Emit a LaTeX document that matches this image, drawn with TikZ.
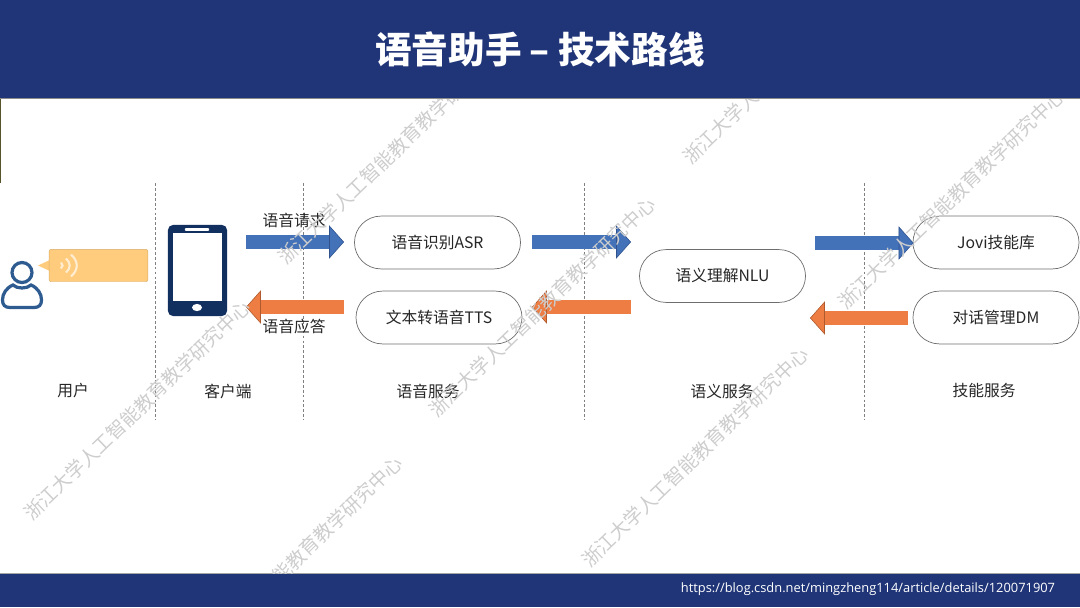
\documentclass[tikz,border=0pt]{standalone}
\usepackage{xcolor}
\usepackage{fontspec}
\usepackage{tikz}
\usetikzlibrary{arrows.meta, positioning, shapes.geometric}
\setmainfont{Open Sans}
\newfontfamily\cjk{Noto Sans CJK SC}
\definecolor{BarBlue}{HTML}{203578}
\definecolor{PhoneBlue}{HTML}{12305F}
\definecolor{UserBlue}{HTML}{2F5C90}
\definecolor{ReqBlue}{HTML}{4472B8}
\definecolor{ReqEdge}{HTML}{2F528F}
\definecolor{RespOrange}{HTML}{ED7D42}
\definecolor{RespEdge}{HTML}{AE5A2E}
\definecolor{BubbleGold}{HTML}{FFCB7C}
\definecolor{PillGray}{HTML}{6E6E6E}
\definecolor{InkGray}{HTML}{262626}
\definecolor{MarkGray}{HTML}{CDCDCD}
\begin{document}
\begin{tikzpicture}[
  x=0.025cm, y=-0.025cm,
  service/.style={rectangle, rounded corners=0.66cm, draw=PillGray, line width=0.5pt, fill=white,
    text=InkGray, font=\fontsize{11.2}{13}\cjk, minimum width=4.15cm, minimum height=1.32cm},
  caption/.style={text=InkGray, font=\fontsize{11.2}{13}\cjk, inner sep=0pt},
  divider/.style={draw=black!50, line width=0.35pt, dash pattern=on 2pt off 1.5pt},
  reqflow/.style={line width=0.4pt, draw=ReqEdge, double=ReqBlue, double distance=0.34cm,
    -{Triangle[length=0.37cm, width=0.83cm, fill=ReqBlue, color=ReqEdge, line width=0.4pt]}},
  respflow/.style={line width=0.4pt, draw=RespEdge, double=RespOrange, double distance=0.34cm,
    -{Triangle[length=0.37cm, width=0.83cm, fill=RespOrange, color=RespEdge, line width=0.4pt]}},
  usericon/.style={draw=UserBlue, line width=2.3pt, fill=white},
  watermark/.style={rotate=44, text=MarkGray, font=\fontsize{13.6}{15}\cjk, inner sep=0pt}
]
\useasboundingbox (0,0) rectangle (1080,607);

% bars
\fill[BarBlue] (0,0) rectangle (1080,98);
\fill[BarBlue] (0,574) rectangle (1080,607);
\draw[black!45, line width=0.7pt] (0,98.5) -- (1080,98.5);
\draw[black!35, line width=0.7pt] (0,573.5) -- (1080,573.5);
\draw[black!50!olive, line width=0.6pt] (0.3,99) -- (0.3,183);
\node[text=white, font=\fontsize{26}{30}\cjk\bfseries] (title) at (540,49) {语音助手 – 技术路线};
\node[text=white, font=\fontsize{9.15}{11}\selectfont, inner sep=0pt] (link) at (868,589) {https://blog.csdn.net/mingzheng114/article/details/120071907};

% dashed columns
\coordinate (d1a) at (155,183); \coordinate (d1b) at (155,420);
\coordinate (d2a) at (303,183); \coordinate (d2b) at (303,420);
\coordinate (d3a) at (584,183); \coordinate (d3b) at (584,420);
\coordinate (d4a) at (864,183); \coordinate (d4b) at (864,420);
\draw[divider] (d1a) -- (d1b);
\draw[divider] (d2a) -- (d2b);
\draw[divider] (d3a) -- (d3b);
\draw[divider] (d4a) -- (d4b);

% user
\draw[usericon] (13,285) .. controls (6,288) and (2.5,294) .. (2.5,300) .. controls (2.5,305) and (5,307.5) .. (10,307.5)
  -- (34,307.5) .. controls (39,307.5) and (41.5,305) .. (41.5,300) .. controls (41.5,294) and (38,288) .. (31,285)
  .. controls (27,289) and (17,289) .. (13,285) -- cycle;
\draw[usericon] (22,272.5) circle (0.25cm);
\fill[BubbleGold] (38,265.5) -- (52,259) -- (52,272) -- cycle;
\node[rectangle, rounded corners=1.5pt, fill=BubbleGold, draw=BubbleGold!85!black, line width=0.3pt,
  minimum width=2.47cm, minimum height=0.81cm, inner sep=0pt] (bubble) at (98.5,265.5) {};
\foreach \wx/\wh in {61/3, 66/7, 71/11}
  \draw[white!65!BubbleGold, line width=1.5pt] (\wx,265.5-\wh) .. controls (\wx+0.7*\wh,265.5-0.4*\wh) and (\wx+0.7*\wh,265.5+0.4*\wh) .. (\wx,265.5+\wh);

% phone
\node[rectangle, rounded corners=3.5pt, fill=PhoneBlue, minimum width=1.475cm, minimum height=2.275cm, inner sep=0pt] (phone) at (197.5,270.5) {};
\node[rectangle, fill=white, minimum width=1.225cm, minimum height=1.7cm, inner sep=0pt] (screen) at (197.5,267) {};
\node[rectangle, rounded corners=0.5pt, fill=white, minimum width=0.6cm, minimum height=0.07cm, inner sep=0pt] (speaker) at (197,229.5) {};
\node[ellipse, fill=white, minimum width=0.25cm, minimum height=0.18cm, inner sep=0pt] (homekey) at (197,307.5) {};

% services
\node[service] (asr)  at (437.5,242.5) {语音识别ASR};
\node[service] (tts)  at (439,317.5)   {文本转语音TTS};
\node[service] (nlu)  at (722.5,276)   {语义理解NLU};
\node[service] (jovi) at (996,242.5)   {Jovi技能库};
\node[service] (dm)   at (996,317.5)   {对话管理DM};

% flow ends
\coordinate (ra) at (246,242);   \coordinate (rb) at (344,242);
\coordinate (rc) at (532,242);   \coordinate (rd) at (631,242);
\coordinate (re) at (815,243);   \coordinate (rf) at (913.5,243);
\coordinate (sa) at (343.5,307); \coordinate (sb) at (246,307);
\coordinate (sc) at (630.5,307); \coordinate (sd) at (532,307);
\coordinate (se) at (908,318);   \coordinate (sf) at (810,318);

\draw[reqflow] (ra) -- (rb);
\draw[reqflow] (rc) -- (rd);
\draw[reqflow] (re) -- (rf);
\draw[respflow] (sa) -- (sb);
\draw[respflow] (sc) -- (sd);
\draw[respflow] (se) -- (sf);

% labels
\node[caption] (reqtext)  at (294,220) {语音请求};
\node[caption] (resptext) at (294,326) {语音应答};
\node[caption] (col1) at (73,391)  {用户};
\node[caption] (col2) at (228,391) {客户端};
\node[caption] (col3) at (428,391) {语音服务};
\node[caption] (col4) at (722,391) {语义服务};
\node[caption] (col5) at (984,390) {技能服务};

% watermark
\begin{scope}
\clip (0,99) rectangle (1080,573);
\foreach \mx/\my [count=\i] in {137/410, 391/154, 289/566, 542/307, 695/457, 951/199, 796/54}
  \node[watermark] (mark\i) at (\mx,\my) {浙江大学人工智能教育教学研究中心};
\end{scope}
\end{tikzpicture}
\end{document}
